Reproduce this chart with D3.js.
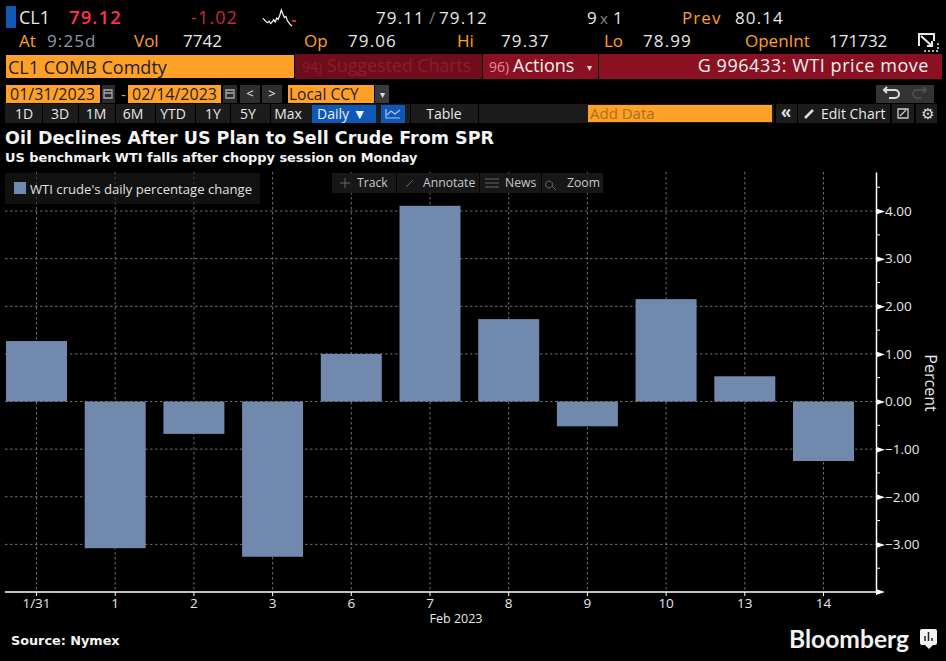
<!DOCTYPE html>
<html>
<head>
<meta charset="utf-8">
<script src="https://cdn.jsdelivr.net/npm/d3@7"></script>
<style>
html, body { margin:0; padding:0; background:#000; overflow:hidden; }
svg { display:block; }
text { font-family:"Open Sans","Noto Sans",sans-serif; }
</style>
</head>
<body>
<div id="chart"></div>
<script>
// chart data
const days = ["1/31","1","2","3","6","7","8","9","10","13","14"];
const changes = [1.27,-3.08,-0.68,-3.26,1.00,4.11,1.73,-0.52,2.15,0.53,-1.25];
const majorTicks = [-3,-2,-1,0,1,2,3,4];
const minorTicks = [-3.5,-2.5,-1.5,-0.5,0.5,1.5,2.5,3.5,4.5];
const sparkValues = [5,4,3.2,2.6,3.4,2.2,3,4.2,3,5,4.4,6.4,9,7,5.2,5.8,3.6,2.6,1.6,1];
const rangeButtons = ["1D","3D","1M","6M","YTD","1Y","5Y","Max"];
const chartTools = ["Track","Annotate","News","Zoom"];

const amber = "#ffa028", crimson = "#8b1022", barColor = "#7189ad", panel = "#1c1c1c";
const w = 946, h = 661;

const svg = d3.select("#chart").append("svg").attr("width", w).attr("height", h);

function label(x, y, str, color, size, anchor){
	return svg.append("text").attr("x", x).attr("y", y)
		.attr("fill", color).attr("font-size", size)
		.attr("text-anchor", anchor || "start").text(str);
}
// quote numbers are spaced wider in the terminal font
function quote(x, y, str, color, size, anchor){
	return label(x, y, str, color, size, anchor).attr("letter-spacing", 1.1);
}
function box(x, y, bw, bh, color){
	return svg.append("rect").attr("x", x).attr("y", y).attr("width", bw).attr("height", bh).attr("fill", color);
}
function calendar(x, y){
	svg.append("path").attr("fill", "none").attr("stroke", "#aaa").attr("stroke-width", 1.3)
		.attr("d", "M" + x + " " + y + "h8v8h-8zM" + x + " " + (y + 3) + "h8");
}

// ---- terminal header, row 1
box(6, 6, 10, 22, "#0f58b8");
label(19, 24, "CL1", "#e8e8e8", 18);
quote(69, 24, "79.12", "#ff3050", 18.5).attr("font-weight", 600);
quote(238, 24, "-1.02", "#c8283e", 18, "end");
quote(376, 24, "79.11", "#e8e8e8", 17);
label(429, 24, "/", "#777", 17);
quote(439, 24, "79.12", "#e8e8e8", 17);
label(587, 24, "9", "#e8e8e8", 17);
label(600, 24, "x", "#888", 15);
label(613, 24, "1", "#e8e8e8", 17);
quote(682, 24, "Prev", amber, 17);
quote(735, 24, "80.14", "#e8e8e8", 17);

const sx = d3.scaleLinear().domain([0, sparkValues.length - 1]).range([263, 292]);
const sy = d3.scaleLinear().domain([0, 10]).range([28, 8]);
svg.append("path").attr("fill", "none").attr("stroke", "#fff").attr("stroke-width", 1.2)
	.attr("d", d3.line().x((d, i) => sx(i)).y(d => sy(d))(sparkValues));
box(292, 20, 4, 2, "#c8283e");

// ---- row 2
label(19, 47, "At", amber, 17);
quote(47, 47, "9:25d", "#8e9aa6", 17);
label(134, 47, "Vol", amber, 17);
label(183, 47, "7742", "#e8e8e8", 17);
label(304, 47, "Op", amber, 17);
quote(348, 47, "79.06", "#e8e8e8", 17);
label(457, 47, "Hi", amber, 17);
quote(501, 47, "79.37", "#e8e8e8", 17);
label(604, 47, "Lo", amber, 17);
quote(643, 47, "78.99", "#e8e8e8", 17);
label(745, 47, "OpenInt", amber, 17);
label(829, 47, "171732", "#e8e8e8", 17);
// expand icon
svg.append("path").attr("fill", "none").attr("stroke", "#e8e8e8").attr("stroke-width", 2)
	.attr("d", "M919 46V34H934V41M921 36L932 46M932 41V46H927");
svg.append("path").attr("fill", "none").attr("stroke", "#e8e8e8").attr("stroke-width", 1.5)
	.attr("stroke-dasharray", "2 2").attr("d", "M924 51H938V42");

// ---- command bar
box(6, 55, 288, 23, amber);
label(8, 74, "CL1 COMB Comdty", "#222", 18);
box(295, 54, 187, 25, "#6e0e1c");
label(302, 72, "94)", "#8f1a2c", 14);
label(327, 72, "Suggested Charts", "#8f1a2c", 17.8);
box(483, 54, 115, 25, crimson);
label(489, 72, "96)", "#e08a98", 14);
label(513, 72, "Actions", "#f0f0f0", 18);
label(587, 71, "▾", "#ddd", 10);
box(599, 54, 343, 25, crimson);
label(929, 72, "G 996433: WTI price move", "#f0f0f0", 18, "end").attr("letter-spacing", 0.55);

// ---- date row
box(6, 85, 94, 18, amber);
label(10, 100, "01/31/2023", "#222", 16);
box(102, 85, 13, 18, "#2a2a2a");
calendar(104, 90);
label(121, 100, "-", amber, 15);
box(128, 85, 93, 18, amber);
label(132, 100, "02/14/2023", "#222", 16);
box(223, 85, 14, 18, "#2a2a2a");
calendar(226, 90);
box(240, 85, 20, 18, "#2e2e2e");
label(250, 98, "<", "#e8e8e8", 13, "middle");
box(262, 85, 20, 18, "#2e2e2e");
label(272, 98, ">", "#e8e8e8", 13, "middle");
box(288, 85, 86, 18, amber);
label(289, 100, "Local CCY", "#222", 15.5);
box(375, 85, 14, 18, "#3a3a3a");
label(382, 98, "▾", "#ddd", 10, "middle");
box(876, 85, 58, 18, "#333");
svg.append("path").attr("fill", "none").attr("stroke", "#ddd").attr("stroke-width", 2)
	.attr("d", "M884 90H895A4 4 0 0 1 895 98H889M887 87L884 90L887 93");
svg.append("path").attr("fill", "none").attr("stroke", "#555").attr("stroke-width", 1.5)
	.attr("d", "M926 90H917A4 4 0 0 0 917 98H921M923 87L926 90L923 93");

// ---- button row
box(5, 104, 932, 19, panel);
const buttonX = [24, 60, 96, 133, 173, 213, 248, 288];
rangeButtons.forEach((b, i) => {
	label(buttonX[i], 119, b, "#e8e8e8", 14, "middle");
	if(i > 0) box(buttonX[i] - 18, 104, 1, 19, "#000");
});
box(312, 105, 64, 18, "#0f58b8");
label(317, 119, "Daily ▼", "#f0f0f0", 14);
box(381, 105, 24, 18, "#0f58b8");
svg.append("path").attr("fill", "none").attr("stroke", "#a8c4ea").attr("stroke-width", 1.2)
	.attr("d", "M386 109V118H400M387 115L391 111L395 114L400 110");
box(410, 104, 1, 19, "#000");
label(444, 119, "Table", "#e8e8e8", 14, "middle");
box(478, 104, 1, 19, "#000");
box(588, 105, 184, 17, amber);
label(590, 119, "Add Data", "#a8701c", 15);
box(774, 104, 2, 19, "#000");
label(786, 118, "«", "#ddd", 17, "middle").attr("font-weight", 700);
box(797, 104, 1, 19, "#000");
svg.append("path").attr("stroke", "#ddd").attr("stroke-width", 2.5).attr("d", "M805 118L813 110");
label(821, 119, "Edit Chart", "#e8e8e8", 14);
box(890, 104, 2, 19, "#000");
svg.append("path").attr("fill", "none").attr("stroke", "#ccc").attr("stroke-width", 1.3)
	.attr("d", "M898 109H908V118H898ZM900 116L906 110");
box(914, 104, 2, 19, "#000");
label(928, 119, "⚙", "#ddd", 15, "middle").style("font-family", "'DejaVu Sans'");

// ---- titles
label(5, 144, "Oil Declines After US Plan to Sell Crude From SPR", "#f4f4f4", 17.5)
	.style("font-family", "'DejaVu Sans'").attr("font-weight", 700);
label(5, 162, "US benchmark WTI falls after choppy session on Monday", "#f4f4f4", 12.9)
	.style("font-family", "'DejaVu Sans'").attr("font-weight", 700);

// ---- chart
const plot = {left:5, right:876, top:172, bottom:592};
const x = d3.scaleBand().domain(days).range([-7.85, 857.85]).paddingInner(0.225).paddingOuter(0.1125);
const y = d3.scaleLinear().domain([-4, 4.82]).range([plot.bottom, plot.top]);
const xc = d => plot.left + x(d) + x.bandwidth() / 2;

const grid = svg.append("g").attr("stroke", "#6e6e6e").attr("stroke-width", 1).attr("stroke-dasharray", "2.5 2.5");
majorTicks.forEach(t => {
	grid.append("line").attr("x1", plot.left).attr("x2", plot.right).attr("y1", y(t)).attr("y2", y(t));
});
days.forEach(d => {
	grid.append("line").attr("x1", xc(d)).attr("x2", xc(d)).attr("y1", plot.top).attr("y2", plot.bottom);
});

svg.append("g").selectAll("rect").data(days).join("rect")
	.attr("x", d => xc(d) - x.bandwidth() / 2)
	.attr("width", x.bandwidth())
	.attr("y", (d, i) => y(Math.max(0, changes[i])))
	.attr("height", (d, i) => Math.abs(y(changes[i]) - y(0)))
	.attr("fill", barColor);

// y axis on the right, triangles at the major ticks
const yAxis = d3.axisRight(y).tickValues(majorTicks).tickSize(0).tickPadding(9)
	.tickFormat(d => d3.format(".2f")(d));
const yG = svg.append("g").attr("transform", "translate(" + plot.right + ",0)").call(yAxis);
yG.select(".domain").attr("stroke", "#fff").attr("stroke-width", 1.5);
yG.selectAll(".tick text").attr("fill", "#e8e8e8").attr("font-size", 13.5).style("font-family", "'Open Sans'");
yG.selectAll(".tick").append("path").attr("d", "M0 -3L9 0L0 3Z").attr("fill", "#fff");
yG.append("path").attr("d", "M0 " + (y(-4) - 3) + "L9 " + y(-4) + "L0 " + (y(-4) + 3) + "Z").attr("fill", "#fff");
yG.selectAll("line.minor").data(minorTicks).join("line").attr("class", "minor")
	.attr("x1", 0).attr("x2", 4).attr("y1", d => y(d)).attr("y2", d => y(d)).attr("stroke", "#fff");

svg.append("text").attr("transform", "translate(925,383) rotate(90)")
	.attr("fill", "#e8e8e8").attr("font-size", 16).attr("text-anchor", "middle").text("Percent");

// x axis
const xAxis = d3.axisBottom(x).tickSize(4).tickPadding(2);
const xG = svg.append("g").attr("transform", "translate(" + plot.left + "," + plot.bottom + ")").call(xAxis);
xG.select(".domain").attr("d", "M0 0H" + (plot.right - plot.left)).attr("stroke", "#fff").attr("stroke-width", 1.5);
xG.selectAll(".tick line").attr("stroke", "#fff");
xG.selectAll(".tick text").attr("fill", "#e8e8e8").attr("font-size", 13.5).style("font-family", "'Open Sans'");
label(456, 623, "Feb 2023", "#e8e8e8", 12.5, "middle");

// ---- legend, the grid shows through it
box(5, 173, 255, 31, "#1c1c1c").attr("opacity", 0.6);
box(14, 182, 12, 12, barColor);
label(30, 194, "WTI crude's daily percentage change", "#e0e0e0", 13.1);

// ---- chart tool strip
box(332, 173, 271, 20, "#1a1a1a").attr("opacity", 0.9);
[396, 479, 541].forEach(p => box(p, 173, 1, 20, "#000"));
const toolX = [357, 423, 505, 567];
chartTools.forEach((t, i) => label(toolX[i], 187, t, "#c8c8c8", 12.2));
svg.append("path").attr("fill", "none").attr("stroke", "#666")
	.attr("d", "M345 178V188M340 183H350M406 187L413 180M485 179H499M485 183H499M485 187H499M549 181A3.5 3.5 0 1 0 549.1 181M552 186L556 190");

// ---- footer
label(11, 645, "Source:  Nymex", "#f4f4f4", 12.8).style("font-family", "'DejaVu Sans'").attr("font-weight", 700);
label(789, 648, "Bloomberg", "#f2f2f2", 24.6).style("font-family", "Lato").attr("font-weight", 700);
svg.append("rect").attr("x", 920).attr("y", 629).attr("width", 17).attr("height", 16).attr("rx", 2).attr("fill", "#f2f2f2");
svg.append("path").attr("d", "M925 645L929 649L933 645Z").attr("fill", "#f2f2f2");
svg.append("path").attr("stroke", "#222").attr("stroke-width", 1.5).attr("d", "M925 641V636M928.5 641V632M932 641V638");
</script>
</body>
</html>
